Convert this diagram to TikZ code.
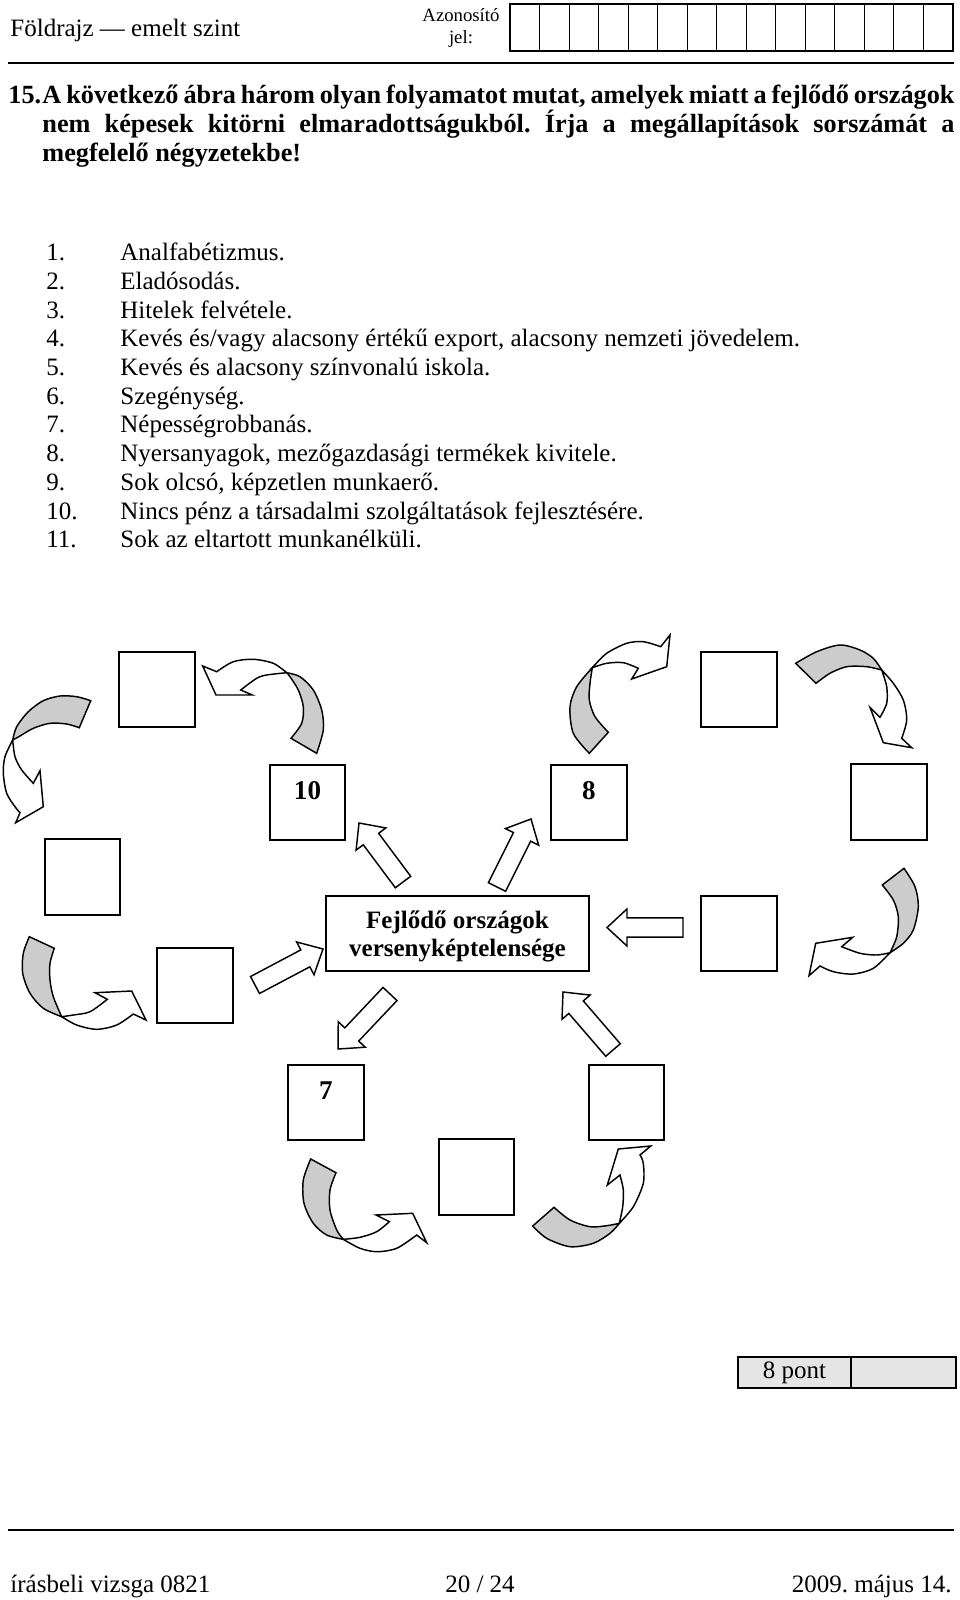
\documentclass[tikz,border=0pt]{standalone}
\usepackage{fontspec}
\setmainfont{Liberation Serif}
\usetikzlibrary{positioning}
\usetikzlibrary{calc}

\frenchspacing

% vastag nyíl a farok- és a csúcspont között
\newcommand{\fatarrow}[2]{%
  \coordinate (#2-base) at ($(#2)!9.6pt!(#1)$);
  \draw[blockarrow]
    ($(#1)!4.6pt!90:(#2)$) --
    ($(#2-base)!4.6pt!-90:(#1)$) --
    ($(#2-base)!8.9pt!-90:(#1)$) --
    (#2) --
    ($(#2-base)!8.9pt!90:(#1)$) --
    ($(#2-base)!4.6pt!90:(#1)$) --
    ($(#1)!4.6pt!-90:(#2)$) -- cycle;}

\begin{document}
\begin{tikzpicture}[
        x=0.48pt, y=-0.48pt,
        every node/.style={font=\fontsize{12}{14}\selectfont},
        answerbox/.style={draw, line width=0.9pt, minimum size=36.3pt, inner sep=0pt},
        numtext/.style={font=\fontsize{13}{15}\selectfont\bfseries, inner sep=0pt},
        corebox/.style={draw, line width=0.9pt, minimum width=126.2pt, minimum height=36pt, inner sep=0pt},
        coretext/.style={align=center, inner sep=0pt, font=\fontsize{12}{13.4}\selectfont\bfseries},
        qtext/.style={anchor=base west, inner sep=0pt, font=\fontsize{12.6}{14}\selectfont\bfseries},
        blockarrow/.style={draw, line width=0.7pt, fill=white, line join=miter},
        backside/.style={draw, line width=0.7pt, fill=gray!40},
        frontside/.style={draw, line width=0.7pt, fill=white}
    ]

        \useasboundingbox (0,0) rectangle (960,1600);

        % Fejléc
        \node[anchor=base west, inner sep=0pt] (subject) at (10,37) {Földrajz — emelt szint};
        \node[align=center, inner sep=0pt, font=\fontsize{9}{11}\selectfont] (idlabel) at (461,28) {Azonosító\\jel:};
        \draw[line width=0.5pt] (510,4) rectangle (953,51);
        \foreach \k in {1,...,14}
            \draw[line width=0.5pt] ({510+29.53*\k},4) -- ({510+29.53*\k},51);
        \draw[line width=1pt] (510,51) -- (953,51);
        \draw[line width=1.4pt] (8,63) -- (954,63);

        % Feladat szövege
        \node[qtext] (qnum) at (8,104) {15.};
        \node[qtext] (qline1) at (42,104)
            {\makebox[437.8pt][s]{A következő ábra három olyan folyamatot mutat, amelyek miatt a fejlődő országok}};
        \node[qtext] (qline2) at (42,133)
            {\makebox[437.8pt][s]{nem képesek kitörni elmaradottságukból. Írja a megállapítások sorszámát a}};
        \node[qtext] (qline3) at (42,162) {megfelelő négyzetekbe!};

        % Megállapítások
        \node[anchor=base west, inner sep=0pt] (n1) at (46,261) {1.};
        \node[anchor=base west, inner sep=0pt] (t1) at (120,261) {Analfabétizmus.};
        \node[anchor=base west, inner sep=0pt] (n2) at (46,289.7) {2.};
        \node[anchor=base west, inner sep=0pt] (t2) at (120,289.7) {Eladósodás.};
        \node[anchor=base west, inner sep=0pt] (n3) at (46,318.3) {3.};
        \node[anchor=base west, inner sep=0pt] (t3) at (120,318.3) {Hitelek felvétele.};
        \node[anchor=base west, inner sep=0pt] (n4) at (46,347) {4.};
        \node[anchor=base west, inner sep=0pt] (t4) at (120,347) {Kevés és/vagy alacsony értékű export, alacsony nemzeti jövedelem.};
        \node[anchor=base west, inner sep=0pt] (n5) at (46,375.7) {5.};
        \node[anchor=base west, inner sep=0pt] (t5) at (120,375.7) {Kevés és alacsony színvonalú iskola.};
        \node[anchor=base west, inner sep=0pt] (n6) at (46,404.4) {6.};
        \node[anchor=base west, inner sep=0pt] (t6) at (120,404.4) {Szegénység.};
        \node[anchor=base west, inner sep=0pt] (n7) at (46,433) {7.};
        \node[anchor=base west, inner sep=0pt] (t7) at (120,433) {Népességrobbanás.};
        \node[anchor=base west, inner sep=0pt] (n8) at (46,461.7) {8.};
        \node[anchor=base west, inner sep=0pt] (t8) at (120,461.7) {Nyersanyagok, mezőgazdasági termékek kivitele.};
        \node[anchor=base west, inner sep=0pt] (n9) at (46,490.4) {9.};
        \node[anchor=base west, inner sep=0pt] (t9) at (120,490.4) {Sok olcsó, képzetlen munkaerő.};
        \node[anchor=base west, inner sep=0pt] (n10) at (46,519) {10.};
        \node[anchor=base west, inner sep=0pt] (t10) at (120,519) {Nincs pénz a társadalmi szolgáltatások fejlesztésére.};
        \node[anchor=base west, inner sep=0pt] (n11) at (46,547.7) {11.};
        \node[anchor=base west, inner sep=0pt] (t11) at (120,547.7) {Sok az eltartott munkanélküli.};

        % Középső téglalap és a négyzetek
        \node[corebox] (core) at (457.5,933.5) {};
        \node[coretext] (coretxt) at ($(core.center)+(0,3)$) {Fejlődő országok\\versenyképtelensége};

        \node[answerbox] (boxA) at (157,689.5) {};
        \node[answerbox] (box10) at (307.5,802.5) {};
        \node[answerbox] (box8) at (589,802.5) {};
        \node[answerbox] (boxB) at (739,689.5) {};
        \node[answerbox] (boxC) at (889,802) {};
        \node[answerbox] (boxD) at (739,933.5) {};
        \node[answerbox] (boxE) at (82.5,877) {};
        \node[answerbox] (boxF) at (195,985.5) {};
        \node[answerbox] (box7) at (326,1102.5) {};
        \node[answerbox] (boxG) at (476.5,1177) {};
        \node[answerbox] (boxH) at (626.5,1102.5) {};

        \node[numtext, below=8.5pt of box10.north] (lab10) {10};
        \node[numtext, below=8.5pt of box8.north] (lab8) {8};
        \node[numtext, below=8.5pt of box7.north] (lab7) {7};

        % Egyenes nyilak
        \coordinate (a10t) at (403,882);
        \coordinate (a10h) at (359,823);
        \coordinate (a8t) at (497,887);
        \coordinate (a8h) at (531,819);
        \coordinate (aFt) at (255,985);
        \coordinate (aFh) at (323,949);
        \coordinate (aDt) at (683,927.5);
        \coordinate (aDh) at (607,927.5);
        \coordinate (a7t) at (390,994);
        \coordinate (a7h) at (338,1049);
        \coordinate (aHt) at (613,1050);
        \coordinate (aHh) at (563,992);

        \fatarrow{a10t}{a10h}
        \fatarrow{a8t}{a8h}
        \fatarrow{aFt}{aFh}
        \fatarrow{aDt}{aDh}
        \fatarrow{a7t}{a7h}
        \fatarrow{aHt}{aHh}

        % Ívelt nyilak
        % bal felső
        \filldraw[backside] plot[smooth] coordinates {(90.7,700.7) (76.7,696.7) (60,696) (43.3,700.7) (28.3,711.7) (16.7,726.7) (12.7,740)}
            -- plot[smooth] coordinates {(12.7,740) (20,736) (33.3,728.3) (50,723.3) (66.7,724) (79.3,727.7)} -- cycle;
        \filldraw[frontside] plot[smooth] coordinates {(12.7,740) (5,756.7) (3.3,773.3) (6.7,793.3) (15,806.7) (20,812.7)}
            -- (15.7,822.7) -- (43.3,806.7) -- (40,770.7)
            -- plot[smooth] coordinates {(33.3,783.3) (21.7,770) (15,756.7) (12.7,740)} -- cycle;

        % a felső négyzet jobb oldalán
        \filldraw[backside] plot[smooth] coordinates {(316.7,753.3) (323.3,730) (321.7,710) (313.3,690) (300,676.7) (286.7,672.7)}
            -- plot[smooth] coordinates {(286.7,672.7) (290,676.7) (298.3,690) (303.3,706.7) (301.7,723.3) (291,738.3)} -- cycle;
        \filldraw[frontside] plot[smooth] coordinates {(286.7,672.7) (273.3,663.3) (253.3,659.3) (233.3,661.7) (216.7,671.7)}
            -- (202.7,666) -- (216,695) -- (252.3,695)
            -- plot[smooth] coordinates {(240.7,690) (256.7,678.3) (266.7,675) (286.7,672.7)} -- cycle;

        % a 8-as fölött
        \filldraw[backside] plot[smooth] coordinates {(589.3,753.3) (573.3,733.3) (570,706.7) (576.7,686.7) (592.3,667.7)}
            -- plot[smooth] coordinates {(592.3,667.7) (590,683.3) (589.3,700) (595,716.7) (608.3,732.3)} -- cycle;
        \filldraw[frontside] plot[smooth] coordinates {(592.3,667.7) (606.7,653.3) (626.7,643.3) (643.3,641.7) (660.7,646.7)}
            -- (670,635) -- (666.7,666.7) -- (631.7,679)
            -- plot[smooth] coordinates {(638.3,668.3) (623.3,662.7) (606.7,663.3) (592.3,667.7)} -- cycle;

        % jobb felső
        \filldraw[backside] plot[smooth] coordinates {(795.7,663.3) (816.7,651.7) (840,645) (860,650) (873.3,658.3) (881.7,670)}
            -- plot[smooth] coordinates {(881.7,670) (866.7,666.7) (846.7,666.7) (830,673.3) (816,683.3)} -- cycle;
        \filldraw[frontside] plot[smooth] coordinates {(881.7,670) (893.3,683.3) (903.3,700) (906.7,720) (901.7,738.3)}
            -- (911.7,747.7) -- (883.3,742.7) -- (870,707.3)
            -- plot[smooth] coordinates {(880,717.3) (886.7,703.3) (886.7,686.7) (881.7,670)} -- cycle;

        % bal alsó
        \filldraw[backside] plot[smooth] coordinates {(29.3,936.7) (23.3,953.3) (22.7,973.3) (30,993.3) (43.3,1008.3) (61.7,1016.7)}
            -- plot[smooth] coordinates {(61.7,1016.7) (53.3,996.7) (50,980) (50,963.3) (54.3,948.3)} -- cycle;
        \filldraw[frontside] plot[smooth] coordinates {(61.7,1016.7) (76.7,1025) (96.7,1029.3) (116.7,1025) (133.3,1014)}
            -- (146,1020) -- (131.7,991) -- (95,992.7)
            -- plot[smooth] coordinates {(107.3,999.3) (90,1011.7) (73.3,1015) (61.7,1016.7)} -- cycle;

        % jobb oldali
        \filldraw[backside] plot[smooth] coordinates {(904,868.3) (915,886.7) (918.3,906.7) (913.3,930) (903.3,943.3) (890,952.7)}
            -- plot[smooth] coordinates {(890,952.7) (896.7,936.7) (898.3,916.7) (893.3,900) (882.3,885)} -- cycle;
        \filldraw[frontside] plot[smooth] coordinates {(890,952.7) (873.3,968.3) (853.3,974) (833.3,971.7) (820,966)}
            -- (809,975.7) -- (815.7,943.3) -- (852.7,937.3)
            -- plot[smooth] coordinates {(841.7,946.7) (860,953.3) (876.7,955) (890,952.7)} -- cycle;

        % a 7-es alatt
        \filldraw[backside] plot[smooth] coordinates {(310.7,1159) (303.3,1180) (304,1203.3) (313.3,1223.3) (326.7,1235) (343.3,1239.3)}
            -- plot[smooth] coordinates {(343.3,1239.3) (336.7,1230) (330,1210) (330,1190) (336,1172.7)} -- cycle;
        \filldraw[frontside] plot[smooth] coordinates {(343.3,1239.3) (360,1248.3) (376.7,1251.7) (396.7,1248.3) (416.7,1235)}
            -- (426.7,1242.7) -- (412.7,1213.3) -- (376,1215)
            -- plot[smooth] coordinates {(389.3,1221.7) (376.7,1231.7) (360,1237.3) (343.3,1239.3)} -- cycle;

        % jobb alsó
        \filldraw[backside] plot[smooth] coordinates {(532.7,1226) (546.7,1238.3) (570,1246.7) (593.3,1243.3) (610,1233.3) (619.3,1223.3)}
            -- plot[smooth] coordinates {(619.3,1223.3) (606.7,1225.7) (590,1226.7) (570,1220) (554,1207.3)} -- cycle;
        \filldraw[frontside] plot[smooth] coordinates {(619.3,1223.3) (633.3,1206.7) (643.3,1183.3) (643.3,1163.3) (640,1155)}
            -- (650.7,1146) -- (618.3,1149) -- (607.3,1185)
            -- plot[smooth] coordinates {(620,1175) (623.3,1190) (622.7,1206.7) (619.3,1223.3)} -- cycle;

        % Pontszám
        \draw[line width=0.5pt, fill=gray!20] (738,1357) rectangle (956,1388);
        \draw[line width=0.5pt] (851,1357) -- (851,1388);
        \node (score) at (794.5,1372.5) {8 pont};

        % Lábléc
        \draw[line width=0.9pt] (8,1530) -- (954,1530);
        \node[anchor=base west, inner sep=0pt] (exam) at (10,1592) {írásbeli vizsga 0821};
        \node[anchor=base, inner sep=0pt] (page) at (480,1592) {20 / 24};
        \node[anchor=base east, inner sep=0pt] (date) at (952,1592) {2009. május 14.};

    \end{tikzpicture}
\end{document}
